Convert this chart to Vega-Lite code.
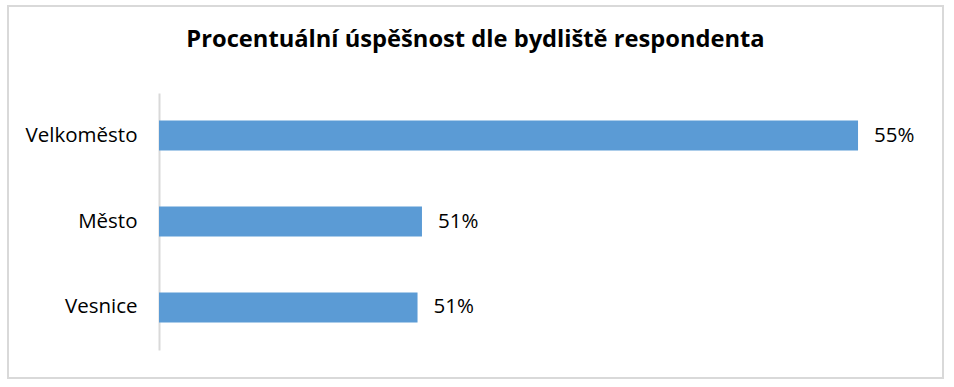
{
  "$schema": "https://vega.github.io/schema/vega-lite/v6.json",
  "autosize": "none",
  "width": 935,
  "height": 372,
  "padding": {"left": 8, "top": 6, "right": 11, "bottom": 9},
  "background": "white",
  "title": {
    "text": "Procentuální úspěšnost dle bydliště respondenta",
    "font": "Open Sans",
    "fontSize": 23.7,
    "fontWeight": "bold",
    "color": "#000000",
    "anchor": "middle",
    "frame": "group",
    "baseline": "alphabetic",
    "offset": 0,
    "dy": 65
  },
  "config": {
    "view": {"stroke": "#d9d9d9", "strokeWidth": 2},
    "font": "Open Sans"
  },
  "data": {
    "values": [
      {"kategorie": "Velkoměsto", "uspesnost": 0.553, "zaklad": 0.49},
      {"kategorie": "Město", "uspesnost": 0.5137, "zaklad": 0.49},
      {"kategorie": "Vesnice", "uspesnost": 0.5133, "zaklad": 0.49}
    ]
  },
  "encoding": {
    "y": {
      "field": "kategorie",
      "type": "nominal",
      "sort": null,
      "scale": {"range": [87, 344], "paddingInner": 0.651, "paddingOuter": 0.32},
      "axis": {
        "title": null,
        "offset": -151,
        "ticks": false,
        "labelPadding": 22,
        "labelFont": "Open Sans",
        "labelFontSize": 20.5,
        "labelColor": "#000000",
        "domainColor": "#d9d9d9",
        "domainWidth": 2,
        "grid": false
      }
    },
    "x": {
      "field": "uspesnost",
      "type": "quantitative",
      "scale": {"domain": [0.49, 0.56], "range": [151, 927.7], "zero": false, "nice": false},
      "axis": null
    }
  },
  "layer": [
    {
      "mark": {"type": "bar", "color": "#5b9bd5"},
      "encoding": {"x2": {"field": "zaklad"}}
    },
    {
      "mark": {"type": "text", "align": "left", "baseline": "middle", "dx": 16, "font": "Open Sans", "fontSize": 20.5, "color": "#000000"},
      "encoding": {"text": {"field": "uspesnost", "type": "quantitative", "format": ".0%"}}
    }
  ]
}
